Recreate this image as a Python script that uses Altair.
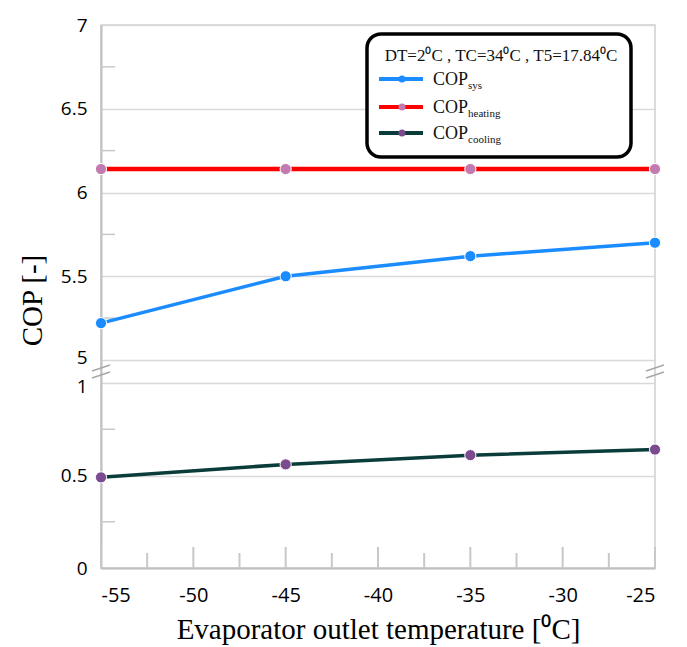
import altair as alt
import pandas as pd

# ---- data ----
temps = [-55, -45, -35, -25]
cop_sys = [5.22, 5.50, 5.62, 5.70]
cop_heating = [6.14, 6.14, 6.14, 6.14]
cop_cooling = [0.49, 0.56, 0.61, 0.64]

series_subs = ["sys", "heating", "cooling"]
line_colors = ["#1a8cff", "#ff0000", "#0a3d3a"]
point_colors = ["#1a8cff", "#c27bb0", "#7b4a8f"]
line_widths = [3.5, 4.5, 3.5]

y_major = [0, 0.5, 1, 5, 5.5, 6, 6.5, 7]
y_minor = [0.25, 0.75, 5.25, 5.75, 6.25, 6.75]
x_major = [-55, -50, -45, -40, -35, -30, -25]
x_minor = [-52.5, -47.5, -42.5, -37.5, -32.5, -27.5]

legend_header = "DT=2\u2070C , TC=34\u2070C , T5=17.84\u2070C"
x_title = "Evaporator outlet temperature [\u2070C]"
y_title = "COP [-]"

W, H = 554, 543
SERIF = "Liberation Serif"
SANS = "Open Sans"

yscale = alt.Scale(domain=[0, 1, 5, 7], range=[H, 358, 335, 0], zero=False, nice=False)
xscale = alt.Scale(domain=[-55, -25], nice=False)

values = [cop_sys, cop_heating, cop_cooling]
frames = [pd.DataFrame({"T": temps, "COP": v}) for v in values]

x_axis = alt.Axis(values=x_major, grid=False, ticks=False, title=x_title,
                  labelFont=SANS, labelFontSize=20, labelColor="#000", labelPadding=17,
                  titleFont=SERIF, titleFontSize=29, titleFontWeight="normal", titleColor="#000",
                  titlePadding=10, domainColor="#c0c0c0", domainWidth=2,
                  labelExpr="toString(datum.value)")
y_axis = alt.Axis(values=y_major, grid=True, gridColor="#d9d9d9", gridWidth=1.5, ticks=False,
                  title=y_title, labelFont=SANS, labelFontSize=19, labelColor="#000",
                  labelPadding=14, titleFont=SERIF, titleFontSize=29, titleFontWeight="normal",
                  titleColor="#000", titleX=-69, titleY=275, titleAngle=270, titleAlign="center",
                  titleBaseline="middle", domainColor="#c0c0c0", domainWidth=2,
                  labelOffset={"condition": [{"test": "datum.value === 5", "value": -3},
                                             {"test": "datum.value === 1", "value": 3}],
                               "value": 0},
                  labelExpr="datum.value == 0 ? '0' : format(datum.value, '.2~f')")

layers = []

# axes carrier layer
layers.append(
    alt.Chart(frames[0]).mark_point(opacity=0).encode(
        x=alt.X("T:Q", scale=xscale, axis=x_axis),
        y=alt.Y("COP:Q", scale=yscale, axis=y_axis),
    )
)

# minor y ticks (inward)
layers.append(
    alt.Chart(pd.DataFrame({"COP": y_minor})).mark_rule(color="#c8c8c8", strokeWidth=1.5).encode(
        y=alt.Y("COP:Q", scale=yscale, axis=y_axis), x=alt.value(0), x2=alt.value(14)
    )
)
# x ticks (upward)
layers.append(
    alt.Chart(pd.DataFrame({"T": x_major})).mark_rule(color="#c8c8c8", strokeWidth=2).encode(
        x=alt.X("T:Q", scale=xscale, axis=x_axis), y=alt.value(H - 21), y2=alt.value(H)
    )
)
layers.append(
    alt.Chart(pd.DataFrame({"T": x_minor})).mark_rule(color="#c8c8c8", strokeWidth=2).encode(
        x=alt.X("T:Q", scale=xscale, axis=x_axis), y=alt.value(H - 15), y2=alt.value(H)
    )
)

# data lines and points
for df, lc, pc, lw in zip(frames, line_colors, point_colors, line_widths):
    layers.append(
        alt.Chart(df).mark_line(color=lc, strokeWidth=lw).encode(
            x=alt.X("T:Q", scale=xscale, axis=x_axis), y=alt.Y("COP:Q", scale=yscale, axis=y_axis)
        )
    )
    layers.append(
        alt.Chart(df).mark_circle(color=pc, size=125, opacity=1, stroke="white", strokeWidth=1).encode(
            x=alt.X("T:Q", scale=xscale, axis=x_axis), y=alt.Y("COP:Q", scale=yscale, axis=y_axis)
        )
    )

# axis break marks
one = pd.DataFrame({"a": [0]})
for x0 in [-9, W - 9]:
    for y0 in [346, 353]:
        layers.append(
            alt.Chart(one).mark_rule(color="#a8a8a8", strokeWidth=1.5).encode(
                x=alt.value(x0), x2=alt.value(x0 + 18), y=alt.value(y0), y2=alt.value(y0 - 6)
            )
        )

# legend box
layers.append(
    alt.Chart(one).mark_rect(fill="white", stroke="black", strokeWidth=3.5, cornerRadius=14).encode(
        x=alt.value(266), x2=alt.value(530), y=alt.value(9), y2=alt.value(132)
    )
)
layers.append(
    alt.Chart(one).mark_text(text=legend_header, font=SERIF, fontSize=17, align="center",
                             baseline="alphabetic", color="#111").encode(
        x=alt.value(400), y=alt.value(36)
    )
)
row_y = [54, 82, 108]
for sub, lc, pc, ry in zip(series_subs, line_colors, point_colors, row_y):
    layers.append(
        alt.Chart(one).mark_rule(color=lc, strokeWidth=4).encode(
            x=alt.value(278), x2=alt.value(322), y=alt.value(ry)
        )
    )
    layers.append(
        alt.Chart(one).mark_circle(color=pc, size=50, opacity=1).encode(
            x=alt.value(301), y=alt.value(ry)
        )
    )
    layers.append(
        alt.Chart(one).mark_text(text="COP", font=SERIF, fontSize=18, align="left",
                                 baseline="alphabetic", color="#111").encode(
            x=alt.value(332), y=alt.value(ry + 6)
        )
    )
    layers.append(
        alt.Chart(one).mark_text(text=sub, font=SERIF, fontSize=11, align="left",
                                 baseline="alphabetic", color="#111").encode(
            x=alt.value(367), y=alt.value(ry + 10)
        )
    )

chart = alt.layer(*layers).properties(
    width=W, height=H,
    autosize=alt.AutoSizeParams(type="none"),
    padding={"left": 93, "top": 17, "right": 24, "bottom": 80},
).configure_view(stroke="#d0d0d0", strokeWidth=1.5)

chart.save("out.html", embed_options={"renderer": "svg", "actions": False})
